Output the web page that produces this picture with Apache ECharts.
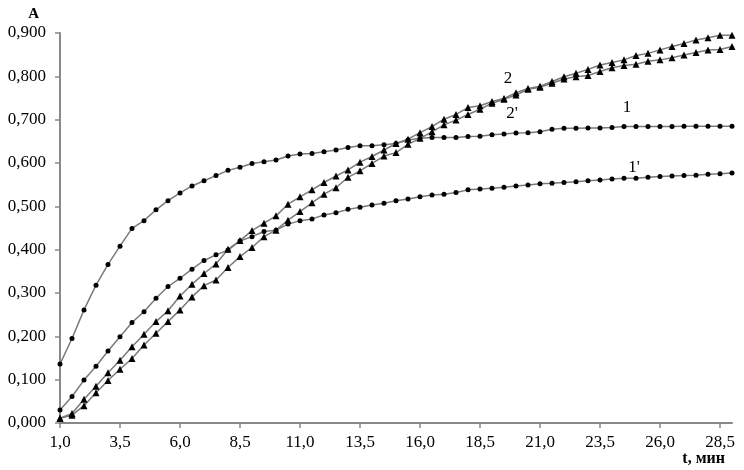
<!DOCTYPE html>
<html>
<head>
<meta charset="utf-8">
<script src="https://cdn.jsdelivr.net/npm/echarts@6/dist/echarts.min.js"></script>
<style>
  html, body { margin: 0; padding: 0; background: #fff; }
  #chart { width: 744px; height: 470px; }
</style>
</head>
<body>
<div id="chart"></div>
<script>
// время, мин (шаг 0,5)
var times = [
  '1,0', '1,5', '2,0', '2,5', '3,0', '3,5', '4,0', '4,5', '5,0', '5,5',
  '6,0', '6,5', '7,0', '7,5', '8,0', '8,5', '9,0', '9,5', '10,0', '10,5',
  '11,0', '11,5', '12,0', '12,5', '13,0', '13,5', '14,0', '14,5', '15,0', '15,5',
  '16,0', '16,5', '17,0', '17,5', '18,0', '18,5', '19,0', '19,5', '20,0', '20,5',
  '21,0', '21,5', '22,0', '22,5', '23,0', '23,5', '24,0', '24,5', '25,0', '25,5',
  '26,0', '26,5', '27,0', '27,5', '28,0', '28,5', '29,0'
]

var curve1 = [
  0.136, 0.195, 0.261, 0.318, 0.366, 0.408, 0.449, 0.467, 0.492, 0.513,
  0.531, 0.547, 0.559, 0.571, 0.583, 0.590, 0.599, 0.603, 0.607, 0.616,
  0.621, 0.622, 0.626, 0.630, 0.636, 0.640, 0.640, 0.642, 0.645, 0.653,
  0.657, 0.659, 0.659, 0.659, 0.661, 0.662, 0.665, 0.667, 0.669, 0.670,
  0.672, 0.678, 0.680, 0.680, 0.681, 0.681, 0.682, 0.684, 0.684, 0.684,
  0.684, 0.684, 0.685, 0.685, 0.685, 0.685, 0.685
]

var curve1p = [
  0.030, 0.061, 0.099, 0.131, 0.166, 0.199, 0.232, 0.257, 0.288, 0.315,
  0.334, 0.355, 0.375, 0.388, 0.399, 0.420, 0.430, 0.442, 0.445, 0.459,
  0.467, 0.471, 0.480, 0.485, 0.493, 0.498, 0.503, 0.507, 0.513, 0.517,
  0.522, 0.526, 0.528, 0.532, 0.538, 0.540, 0.542, 0.544, 0.547, 0.549,
  0.552, 0.553, 0.555, 0.557, 0.559, 0.561, 0.563, 0.565, 0.565, 0.567,
  0.569, 0.570, 0.571, 0.572, 0.574, 0.575, 0.577
]

var curve2 = [
  0.011, 0.022, 0.055, 0.085, 0.116, 0.145, 0.176, 0.205, 0.234, 0.259,
  0.293, 0.320, 0.345, 0.367, 0.401, 0.421, 0.444, 0.461, 0.478, 0.505,
  0.522, 0.538, 0.555, 0.570, 0.584, 0.602, 0.615, 0.630, 0.645, 0.655,
  0.670, 0.684, 0.701, 0.712, 0.728, 0.732, 0.742, 0.749, 0.762, 0.772,
  0.777, 0.788, 0.799, 0.807, 0.816, 0.826, 0.832, 0.838, 0.848, 0.853,
  0.861, 0.869, 0.876, 0.884, 0.889, 0.895, 0.895
]

var curve2p = [
  0.011, 0.018, 0.040, 0.070, 0.098, 0.124, 0.149, 0.180, 0.207, 0.234,
  0.261, 0.291, 0.317, 0.330, 0.359, 0.384, 0.405, 0.430, 0.445, 0.468,
  0.488, 0.508, 0.528, 0.543, 0.567, 0.582, 0.599, 0.616, 0.624, 0.643,
  0.657, 0.672, 0.688, 0.699, 0.712, 0.724, 0.738, 0.747, 0.757, 0.770,
  0.775, 0.784, 0.794, 0.799, 0.802, 0.811, 0.820, 0.825, 0.828, 0.835,
  0.838, 0.843, 0.849, 0.855, 0.861, 0.862, 0.869
]

var font = "'Liberation Serif', 'Times New Roman', serif"

// подпись кривой через markPoint
function tag(text, idx, val, dx) {
  return {
    symbolSize: 0,
    silent: true,
    label: {
      show: true,
      position: 'inside',
      formatter: '{b}',
      color: '#000',
      fontFamily: font,
      fontSize: 17,
      offset: [dx, 0]
    },
    data: [{ name: text, coord: [idx, val] }]
  }
}

function makeSeries(name, data, symbol, size, mark) {
  return {
    name: name,
    type: 'line',
    data: data,
    symbol: symbol,
    symbolSize: size,
    showAllSymbol: true,
    lineStyle: { color: '#7a7a7a', width: 1.5 },
    itemStyle: { color: '#000' },
    markPoint: mark
  }
}

var chart = echarts.init(document.getElementById('chart'))
chart.setOption({
  animation: false,
  backgroundColor: '#fff',
  grid: { left: 60, right: 12, top: 33, bottom: 47 },
  xAxis: {
    type: 'category',
    data: times,
    boundaryGap: false,
    name: 't, мин',
    nameLocation: 'end',
    nameGap: 0,
    nameTextStyle: {
      fontFamily: font, fontSize: 16, fontWeight: 'bold', color: '#000',
      align: 'right', verticalAlign: 'top', padding: [28, 7, 0, 0]
    },
    axisLine: { lineStyle: { color: '#888', width: 2 } },
    axisTick: { interval: 4, length: 5, lineStyle: { color: '#888', width: 1.5 } },
    axisLabel: { interval: 4, margin: 11, fontFamily: font, fontSize: 17, color: '#000' },
    splitLine: { show: false }
  },
  yAxis: {
    type: 'value',
    min: 0,
    max: 0.9,
    interval: 0.1,
    name: 'A',
    nameGap: 11,
    nameTextStyle: {
      fontFamily: font, fontSize: 15, fontWeight: 'bold', color: '#000',
      align: 'right', padding: [0, 21, 0, 0]
    },
    axisLine: { show: true, lineStyle: { color: '#888', width: 2 } },
    axisTick: { show: true, length: 5, lineStyle: { color: '#888', width: 1.5 } },
    axisLabel: {
      margin: 14, fontFamily: font, fontSize: 17, color: '#000',
      formatter: function (v) { return v.toFixed(3).replace('.', ',') }
    },
    splitLine: { show: false }
  },
  series: [
    makeSeries('1', curve1, 'circle', 5, tag('1', 47, 0.727, 3)),
    makeSeries("1'", curve1p, 'circle', 5, tag("1'", 48, 0.589, -2)),
    makeSeries('2', curve2, 'triangle', 7, tag('2', 37, 0.794, 4)),
    makeSeries("2'", curve2p, 'triangle', 7, tag("2'", 37, 0.715, 8))
  ]
})
</script>
</body>
</html>
